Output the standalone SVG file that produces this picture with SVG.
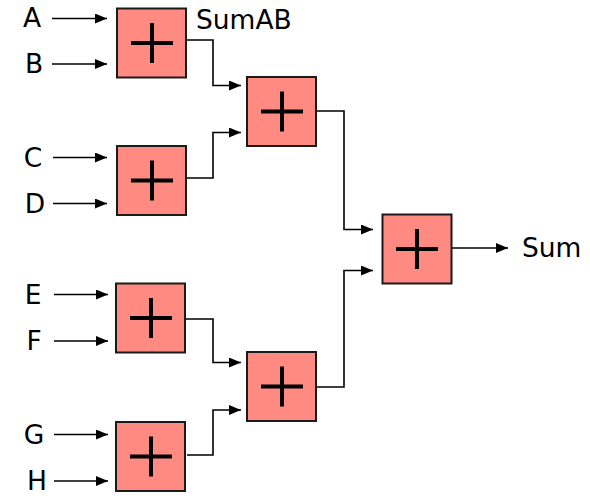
<svg xmlns="http://www.w3.org/2000/svg" width="590" height="498" viewBox="0 0 590 498">
<defs>
<style>
.box{fill:#FF8A82;stroke:#1a1a1a;stroke-width:2}
.plus{stroke:#000;stroke-width:4;fill:none}
.wire{stroke:#000;stroke-width:1.6;fill:none;marker-end:url(#ah)}
.lbl{font-family:"DejaVu Sans",Verdana,sans-serif;font-size:26.5px;fill:#000}
</style>
<marker id="ah" markerUnits="userSpaceOnUse" markerWidth="12" markerHeight="10" viewBox="0 0 12 10" refX="12" refY="5" orient="auto">
<path d="M0,0 L12,5 L0,10 Z" fill="#000"/>
</marker>
<g id="plusSym"><path class="plus" d="M-21,0 H21 M0,-20 V20"/></g>
</defs>
<rect width="590" height="498" fill="#fff"/>
<g id="connectors">
<path class="wire" d="M52,18.5 H107"/>
<path class="wire" d="M52,64 H107"/>
<path class="wire" d="M53,157.5 H107"/>
<path class="wire" d="M53,203.5 H107"/>
<path class="wire" d="M54,294.5 H108"/>
<path class="wire" d="M54,341 H108"/>
<path class="wire" d="M54,434.5 H108"/>
<path class="wire" d="M54,481 H108"/>
<path class="wire" d="M186,40 H213 V85.5 H241"/>
<path class="wire" d="M186,178 H213 V132.5 H241"/>
<path class="wire" d="M186,319 H213 V362.5 H241"/>
<path class="wire" d="M187,455 H213 V410 H241"/>
<path class="wire" d="M316,111 H344 V229.5 H373"/>
<path class="wire" d="M316,387 H344 V270.5 H373"/>
<path class="wire" d="M452,248 H508"/>
</g>
<g id="labels">
<text class="lbl" x="32" y="27" text-anchor="middle">A</text>
<text class="lbl" x="34" y="73" text-anchor="middle">B</text>
<text class="lbl" x="33" y="166.5" text-anchor="middle">C</text>
<text class="lbl" x="35" y="213" text-anchor="middle">D</text>
<text class="lbl" x="33" y="303.5" text-anchor="middle">E</text>
<text class="lbl" x="34" y="350" text-anchor="middle">F</text>
<text class="lbl" x="34" y="443.5" text-anchor="middle">G</text>
<text class="lbl" x="37" y="490" text-anchor="middle">H</text>
<text class="lbl" x="196" y="29">SumAB</text>
<text class="lbl" x="522" y="257">Sum</text>
</g>
<g id="add_AB"><rect class="box" x="117" y="8.5" width="69" height="69"/><use href="#plusSym" x="152" y="43"/></g>
<g id="add_CD"><rect class="box" x="117" y="146" width="69" height="69"/><use href="#plusSym" x="152" y="180.5"/></g>
<g id="add_EF"><rect class="box" x="116" y="283.5" width="69" height="69"/><use href="#plusSym" x="151" y="318"/></g>
<g id="add_GH"><rect class="box" x="116" y="422" width="69" height="69"/><use href="#plusSym" x="151" y="456.5"/></g>
<g id="add_ABCD"><rect class="box" x="247" y="77" width="69" height="69"/><use href="#plusSym" x="282" y="111.5"/></g>
<g id="add_EFGH"><rect class="box" x="247" y="352" width="69" height="69"/><use href="#plusSym" x="282" y="386.5"/></g>
<g id="add_final"><rect class="box" x="382.5" y="214.5" width="69" height="69"/><use href="#plusSym" x="417" y="249"/></g>
</svg>
